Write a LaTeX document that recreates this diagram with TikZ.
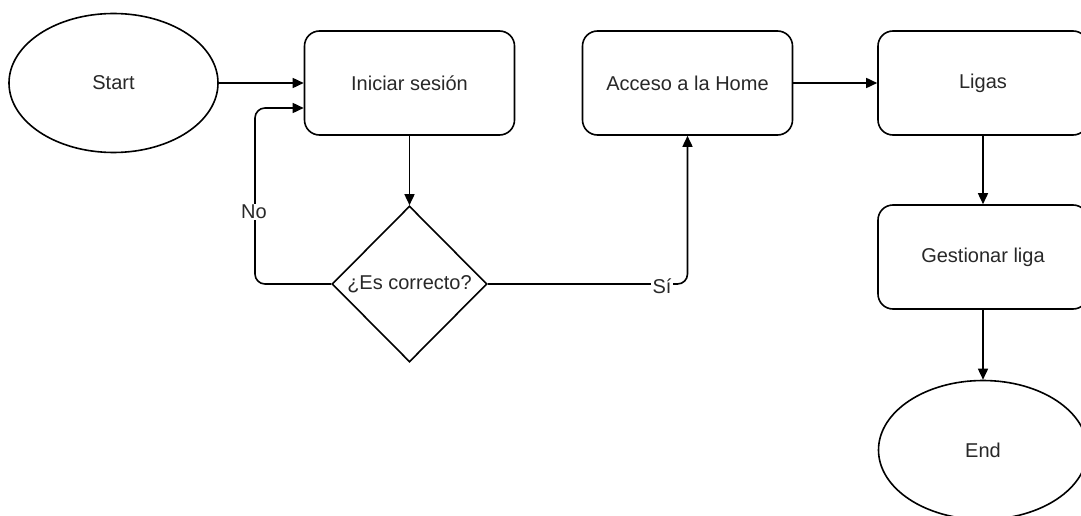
\documentclass[tikz,border=0pt]{standalone}
\usepackage{fontspec}
\setmainfont{Liberation Sans}
\usetikzlibrary{shapes.geometric,arrows.meta}
\definecolor{txt}{RGB}{40,40,40}
\begin{document}
\begin{tikzpicture}[x=1pt,y=-1pt,
  font=\fontsize{20}{24}\selectfont, text=txt,
  proc/.style={draw, line width=1.6pt, rounded corners=15pt, minimum width=210pt, minimum height=104pt, inner sep=0pt},
  term/.style={draw, ellipse, line width=1.6pt, minimum width=209pt, minimum height=139pt, inner sep=0pt},
  decis/.style={draw, diamond, line width=1.6pt, minimum width=155pt, minimum height=156pt, inner sep=0pt},
  arr/.style={draw, line width=1.6pt, -{Triangle[length=11pt,width=10pt]}},
  lbl/.style={fill=white, inner sep=1.5pt}]
\clip (0,0) rectangle (1081,516);
\fill[white] (0,0) rectangle (1081,516);
\node[term] (start) at (113.5,83) {Start};
\node[proc] (ini) at (409.5,83) {Iniciar sesión};
\node[proc] (acc) at (687.5,83) {Acceso a la Home};
\node[proc] (lig) at (983,83) {Ligas};
\node[proc] (ges) at (983,257) {Gestionar liga};
\node[term] (fin) at (983,450) {End};
\node[decis] (dec) at (409.5,284) {};
\node (dectxt) at (dec.center) {¿Es correcto?};
\coordinate (nloop) at (255,108);
\draw[arr] (start) -- (ini);
\draw[arr] (ini) -- (dec.north);
\draw[arr, rounded corners=10pt] (dec.west) -| (nloop) -- (ini.west |- nloop);
\node[lbl] (no) at (254,212) {No};
\draw[arr, rounded corners=10pt] (dec.east) -| (acc.south);
\node[lbl] (si) at (662,286) {Sí};
\draw[arr] (acc) -- (lig);
\draw[arr] (lig) -- (ges);
\draw[arr] (ges) -- (fin);
\end{tikzpicture}
\end{document}
